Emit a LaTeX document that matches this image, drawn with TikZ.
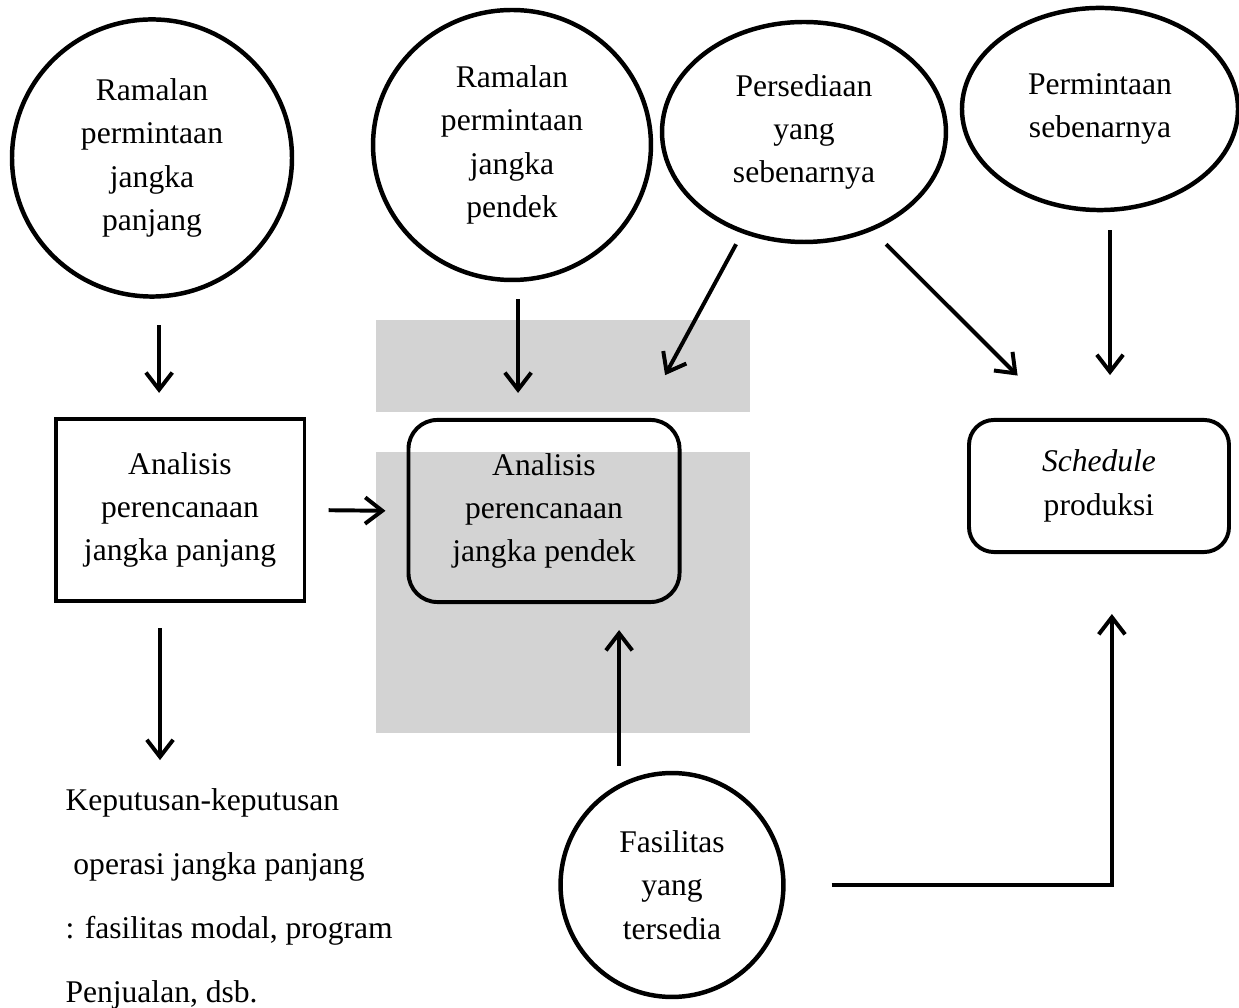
\documentclass[tikz,border=0pt]{standalone}
\usepackage{fontspec}
\setmainfont{Liberation Serif}
\usetikzlibrary{arrows.meta, shapes.geometric, positioning}
\definecolor{wmgray}{RGB}{211,211,211}

\begin{document}
\begin{tikzpicture}[x=0.38pt, y=-0.38pt,
  txt/.style={align=center, font=\fontsize{12}{16.5}\selectfont, inner sep=1pt},
  bubble/.style={txt, ellipse, draw, line width=1.7pt},
  box/.style={txt, rectangle, draw, line width=1.5pt},
  rbox/.style={box, rounded corners=11pt},
  ar/.style={-{Straight Barb[length=6.5pt, width=10pt]}, line width=1.5pt}]
\useasboundingbox (0,0) rectangle (1239,1008);
% background blocks
\fill[wmgray] (376,320) rectangle (750,412);
\fill[wmgray] (376,452) rectangle (750,733);
% input bubbles
\node[bubble, minimum width=106.4pt, minimum height=105.3pt] (ramPjg) at (152,158) {Ramalan\\permintaan\\jangka\\panjang};
\node[bubble, minimum width=105.6pt, minimum height=102.6pt] (ramPdk) at (512,145) {Ramalan\\permintaan\\jangka\\pendek};
\node[bubble, minimum width=107.9pt, minimum height=83.6pt] (sediaReal) at (804,132) {Persediaan\\yang\\sebenarnya};
\node[bubble, minimum width=104.9pt, minimum height=76.8pt] (mintaReal) at (1100,109) {Permintaan\\sebenarnya};
\node[bubble, minimum width=84.7pt, minimum height=85.1pt] (fasilitas) at (672,885) {Fasilitas\\yang\\tersedia};
% analysis boxes
\node[box, minimum width=94.6pt, minimum height=69.5pt] (anlPjg) at (180,510) {Analisis\\perencanaan\\jangka panjang};
\node[rbox, minimum width=103pt, minimum height=69.2pt] (anlPdk) at (544,511) {Analisis\\perencanaan\\jangka pendek};
\node[rbox, rounded corners=9.5pt, minimum width=98.8pt, minimum height=50.2pt] (jadwal) at (1099,486) {\textit{Schedule}\\produksi};
% output text
\node[anchor=north west, align=left, inner sep=0pt, font=\fontsize{12}{24.3}\selectfont] (keputusan) at (65,788)
  {Keputusan-keputusan\\\hspace*{3pt}operasi jangka panjang\\: fasilitas modal, program\\Penjualan, dsb.};
% arrows
\draw[ar, shorten <=10pt, shorten >=9pt] ([xshift=2.7pt]ramPjg.south) -- ([xshift=2.7pt]ramPjg.south |- anlPjg.north);
\draw[ar, shorten <=6.5pt, shorten >=9.5pt] ([xshift=2.3pt]ramPdk.south) -- ([xshift=2.3pt]ramPdk.south |- anlPdk.north);
\draw[ar, shorten >=18.5pt] ([xshift=-25.8pt]sediaReal.south) -- ([xshift=37.2pt]anlPdk.north);
\draw[ar, shorten >=22.8pt] ([xshift=31.2pt]sediaReal.south) -- ([xshift=-14.8pt]jadwal.north);
\draw[ar, shorten <=6.8pt, shorten >=16.3pt] ([xshift=3.8pt]mintaReal.south) -- ([xshift=3.8pt]mintaReal.south |- jadwal.north);
\draw[ar, shorten <=8.4pt, shorten >=8pt] (anlPjg.east) -- (anlPdk.west);
\draw[ar, shorten <=9.5pt, shorten >=10.6pt] ([xshift=-7.6pt]anlPjg.south) -- ([xshift=-7.6pt]anlPjg.south |- keputusan.north);
\draw[ar, shorten <=1.9pt, shorten >=9.9pt] ([xshift=-20.1pt]fasilitas.north) -- ([xshift=-20.1pt]fasilitas.north |- anlPdk.south);
\draw[ar, shorten <=17.5pt, shorten >=22.8pt] (fasilitas.east) -| ([xshift=4.9pt]jadwal.south);
\end{tikzpicture}
\end{document}
